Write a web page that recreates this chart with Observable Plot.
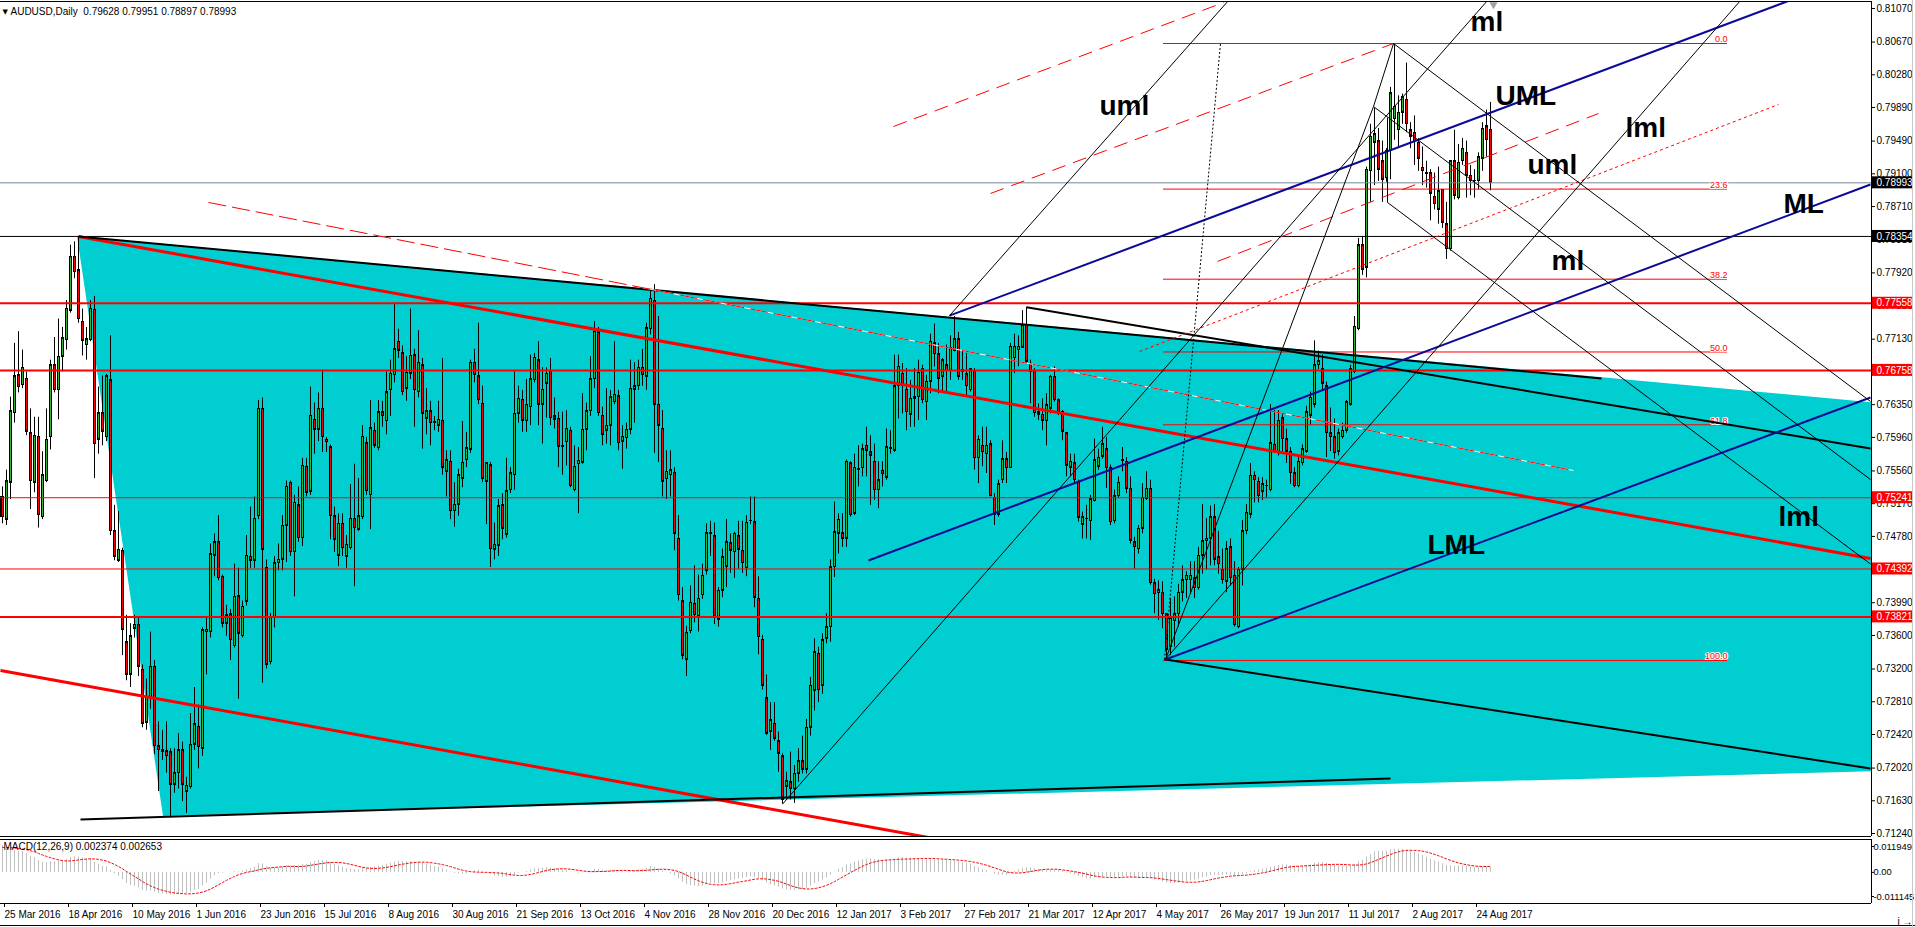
<!DOCTYPE html>
<html><head><meta charset="utf-8">
<script src="https://cdn.jsdelivr.net/npm/d3@7"></script>
<script src="https://cdn.jsdelivr.net/npm/@observablehq/plot@0.6"></script>
<style>
html,body{margin:0;padding:0;background:#fff;}
#wrap{position:relative;width:1915px;height:927px;overflow:hidden;font-family:"Liberation Sans",Arial,sans-serif;}
#main{position:absolute;left:0;top:0;}
#macd{position:absolute;left:0;top:838px;}
#bl{position:absolute;left:0;top:925px;width:1915px;height:1px;background:#000;}
#rl{position:absolute;left:1912px;top:0;width:1px;height:927px;background:#c8c8c8;}
</style></head><body><div id="wrap"><div id="main"></div><div id="macd"></div><div id="bl"></div><div id="rl"></div></div>
<script>
// ---- daily candles (price x 10000), bar 0 = 25 Mar 2016 ----
const opens = [7525,7498,7542,7625,7670,7658,7666,7601,7542,7597,
7501,7544,7596,7682,7652,7692,7712,7747,7811,7795,
7734,7706,7712,7748,7593,7625,7596,7664,7484,7449,
7461,7352,7313,7368,7373,7319,7256,7286,7323,7228,
7221,7222,7221,7182,7196,7223,7174,7179,7230,7251,
7225,7364,7364,7455,7471,7430,7374,7385,7347,7407,
7359,7400,7454,7449,7502,7630,7440,7328,7381,7446,
7450,7491,7542,7459,7515,7476,7561,7531,7617,7605,
7630,7593,7584,7502,7455,7493,7454,7464,7499,7486,
7501,7589,7527,7604,7583,7626,7615,7652,7670,7710,
7696,7654,7672,7694,7650,7682,7618,7627,7614,7610,
7616,7555,7567,7508,7516,7547,7569,7581,7685,7669,
7636,7543,7563,7462,7467,7515,7480,7533,7551,7624,
7641,7615,7632,7664,7688,7635,7660,7675,7621,7618,
7586,7590,7604,7533,7564,7566,7605,7627,7665,7721,
7622,7604,7610,7638,7645,7591,7595,7605,7653,7657,
7679,7668,7725,7759,7635,7606,7546,7551,7554,7475,
7401,7331,7365,7398,7382,7408,7437,7482,7478,7379,
7413,7442,7470,7459,7478,7461,7440,7496,7495,7404,
7355,7285,7245,7255,7234,7216,7180,7185,7177,7195,
7210,7200,7250,7294,7338,7300,7356,7370,7441,7481,
7482,7475,7565,7505,7558,7559,7586,7578,7567,7533,
7556,7548,7583,7580,7657,7672,7653,7623,7642,7644,
7678,7638,7662,7708,7695,7668,7682,7675,7699,7713,
7676,7671,7652,7675,7571,7586,7576,7588,7524,7504,
7545,7570,7559,7690,7700,7703,7729,7684,7675,7626,
7623,7615,7630,7668,7640,7626,7601,7560,7565,7543,
7492,7499,7496,7520,7561,7573,7582,7559,7496,7526,
7569,7567,7535,7471,7463,7487,7523,7535,7422,7410,
7411,7385,7346,7377,7385,7411,7426,7426,7428,7416,
7455,7472,7475,7501,7453,7438,7424,7465,7431,7370,
7438,7484,7504,7550,7543,7531,7538,7533,7587,7577,
7619,7594,7579,7553,7538,7565,7579,7622,7635,7682,
7677,7657,7601,7596,7579,7596,7604,7635,7674,7725,
7825,7798,7913,7947,7949,7925,7905,7937,7975,7962,
7983,7998,7962,7959,7947,7917,7911,7911,7883,7867,
7891,7850,7820,7925,7881,7925,7935,7908,7902,7901,
7928,7967,7962.8];
const highs = [7537,7557,7644,7708,7722,7700,7674,7630,7620,7620,
7579,7630,7688,7715,7737,7727,7759,7825,7829,7835,
7749,7727,7759,7764,7656,7669,7671,7717,7515,7508,
7464,7384,7374,7384,7381,7325,7308,7364,7330,7257,
7247,7257,7225,7225,7243,7233,7191,7267,7298,7277,
7369,7381,7469,7481,7503,7432,7396,7391,7445,7440,
7401,7479,7513,7525,7640,7643,7450,7386,7454,7469,
7503,7544,7544,7527,7537,7571,7571,7656,7637,7649,
7676,7596,7587,7513,7505,7505,7479,7540,7564,7547,
7610,7596,7640,7613,7640,7639,7674,7688,7756,7725,
7705,7692,7749,7701,7723,7690,7654,7639,7621,7639,
7690,7580,7580,7542,7558,7615,7602,7688,7701,7732,
7657,7566,7566,7494,7522,7529,7571,7560,7674,7657,
7652,7665,7694,7696,7710,7679,7679,7690,7643,7626,
7626,7628,7608,7586,7584,7648,7637,7692,7734,7727,
7632,7654,7652,7710,7652,7610,7613,7688,7685,7688,
7701,7732,7771,7778,7740,7628,7580,7580,7560,7503,
7417,7371,7419,7443,7432,7445,7493,7496,7494,7417,
7463,7498,7481,7483,7496,7496,7503,7525,7525,7430,
7360,7313,7280,7280,7245,7219,7197,7221,7205,7225,
7240,7260,7310,7356,7346,7362,7386,7450,7519,7505,
7505,7569,7567,7576,7586,7588,7608,7598,7588,7567,
7567,7606,7604,7694,7694,7684,7678,7664,7678,7688,
7682,7670,7719,7731,7708,7690,7706,7717,7740,7721,
7698,7696,7678,7678,7598,7608,7608,7592,7529,7545,
7592,7578,7708,7719,7717,7747,7751,7688,7678,7636,
7642,7648,7670,7680,7642,7628,7602,7576,7576,7545,
7507,7515,7527,7594,7582,7608,7596,7563,7533,7549,
7584,7572,7549,7477,7491,7541,7555,7545,7427,7425,
7424,7386,7404,7406,7421,7443,7436,7448,7448,7465,
7516,7499,7514,7516,7484,7463,7472,7475,7448,7441,
7497,7516,7565,7555,7548,7548,7545,7635,7628,7628,
7623,7606,7584,7560,7574,7587,7633,7650,7711,7699,
7694,7662,7631,7618,7606,7613,7640,7682,7740,7833,
7835,7918,7969,7988,7964,7949,7940,8013,8065,8003,
8005,8042,7971,7979,7952,7942,7925,7915,7911,7918,
7891,7876,7925,7962,7945,7952,7949,7920,7915,7935,
7971,7986,7995.1];
const lows = [7493,7491,7522,7613,7649,7654,7598,7510,7530,7488,
7498,7542,7581,7649,7617,7674,7700,7744,7785,7732,
7693,7688,7710,7547,7576,7586,7591,7479,7449,7447,
7336,7306,7298,7357,7311,7250,7247,7272,7218,7174,
7211,7196,7144,7172,7177,7162,7148,7177,7223,7201,
7216,7313,7357,7430,7425,7369,7359,7330,7345,7284,
7357,7395,7440,7440,7498,7303,7320,7325,7369,7437,
7437,7447,7454,7406,7471,7466,7525,7527,7576,7591,
7578,7578,7474,7459,7442,7454,7440,7462,7418,7484,
7498,7527,7486,7583,7580,7608,7599,7621,7661,7690,
7646,7639,7665,7608,7643,7582,7599,7586,7604,7602,
7551,7525,7498,7489,7502,7536,7560,7577,7661,7635,
7542,7492,7441,7450,7454,7474,7476,7529,7533,7613,
7602,7602,7610,7661,7610,7588,7619,7610,7606,7560,
7551,7562,7536,7531,7505,7564,7580,7621,7654,7621,
7586,7588,7586,7635,7580,7558,7582,7599,7613,7652,
7657,7652,7718,7577,7566,7525,7522,7525,7461,7401,
7331,7311,7362,7375,7364,7403,7432,7454,7373,7370,
7405,7417,7434,7428,7439,7434,7430,7492,7393,7337,
7295,7241,7223,7234,7197,7159,7165,7164,7160,7185,
7195,7195,7240,7270,7280,7290,7350,7352,7429,7457,
7465,7465,7501,7503,7537,7549,7549,7515,7521,7511,
7537,7545,7576,7578,7618,7624,7604,7608,7608,7616,
7636,7616,7648,7680,7648,7650,7648,7664,7698,7664,
7664,7646,7650,7557,7541,7561,7553,7525,7491,7501,
7541,7541,7559,7672,7680,7702,7684,7636,7620,7616,
7604,7586,7624,7638,7622,7592,7549,7549,7540,7495,
7475,7475,7473,7519,7557,7570,7535,7491,7493,7523,
7555,7529,7469,7439,7457,7481,7521,7420,7386,7378,
7368,7331,7336,7346,7370,7400,7404,7409,7404,7414,
7433,7438,7443,7443,7433,7421,7411,7419,7370,7368,
7419,7480,7499,7518,7518,7521,7523,7531,7577,7574,
7579,7565,7540,7536,7536,7562,7577,7610,7631,7677,
7652,7572,7579,7570,7574,7594,7601,7633,7672,7723,
7789,7786,7876,7896,7901,7876,7900,7903,7950,7942,
7969,7959,7940,7920,7913,7896,7893,7854,7867,7850,
7845,7808,7818,7879,7879,7920,7881,7884,7881,7891,
7913,7930,7889.7];
const closes = [7501,7544,7627,7669,7656,7679,7603,7544,7598,7503,
7551,7593,7682,7652,7692,7714,7749,7811,7793,7737,
7711,7713,7749,7588,7625,7603,7669,7484,7454,7462,
7367,7313,7359,7373,7323,7255,7286,7323,7228,7223,
7223,7216,7182,7196,7223,7182,7181,7230,7254,7227,
7366,7367,7457,7471,7428,7374,7384,7354,7406,7362,
7394,7455,7449,7499,7630,7462,7325,7381,7446,7450,
7491,7537,7459,7518,7476,7562,7530,7622,7605,7630,
7596,7590,7502,7474,7493,7464,7468,7499,7488,7502,
7597,7532,7607,7586,7626,7621,7650,7672,7701,7699,
7650,7673,7693,7652,7685,7624,7627,7613,7613,7617,
7560,7569,7508,7516,7551,7566,7583,7685,7670,7640,
7547,7565,7463,7468,7514,7487,7532,7553,7624,7642,
7616,7635,7665,7691,7635,7653,7672,7619,7617,7585,
7585,7606,7538,7561,7568,7605,7627,7665,7722,7625,
7599,7610,7644,7647,7589,7597,7605,7654,7657,7679,
7670,7726,7761,7635,7610,7543,7555,7557,7481,7408,
7336,7363,7399,7384,7404,7431,7482,7481,7383,7413,
7453,7471,7461,7481,7462,7446,7494,7496,7405,7358,
7300,7243,7259,7237,7219,7164,7186,7177,7195,7210,
7200,7250,7300,7340,7295,7354,7370,7441,7483,7498,
7475,7567,7503,7560,7557,7582,7580,7574,7533,7545,
7552,7584,7582,7657,7680,7657,7626,7642,7644,7673,
7640,7662,7710,7695,7666,7688,7675,7702,7713,7668,
7674,7657,7677,7571,7593,7578,7586,7526,7504,7540,
7570,7559,7704,7704,7704,7729,7686,7674,7625,7623,
7616,7634,7668,7640,7626,7603,7562,7567,7545,7500,
7501,7499,7522,7569,7572,7588,7559,7495,7526,7542,
7568,7535,7473,7465,7487,7524,7535,7422,7409,7414,
7385,7343,7380,7385,7411,7426,7431,7431,7416,7455,
7472,7475,7501,7450,7445,7426,7463,7428,7372,7438,
7484,7506,7550,7545,7526,7540,7538,7589,7579,7616,
7594,7579,7553,7538,7567,7582,7626,7643,7682,7687,
7660,7601,7596,7577,7601,7604,7638,7677,7728,7825,
7796,7915,7954,7957,7915,7903,7937,8006,7990,7983,
8001,7969,7954,7949,7928,7913,7910,7886,7874,7889,
7852,7820,7925,7884,7923,7940,7908,7901,7901,7930,
7964,7950,7899.3];

// ---- axis labels ----
const dateLabels = ["25 Mar 2016","18 Apr 2016","10 May 2016","1 Jun 2016","23 Jun 2016","15 Jul 2016","8 Aug 2016","30 Aug 2016","21 Sep 2016","13 Oct 2016","4 Nov 2016","28 Nov 2016","20 Dec 2016","12 Jan 2017","3 Feb 2017","27 Feb 2017","21 Mar 2017","12 Apr 2017","4 May 2017","26 May 2017","19 Jun 2017","11 Jul 2017","2 Aug 2017","24 Aug 2017"];
const dateLabelStep = 16;
const priceTicks = [0.81070,0.80670,0.80280,0.79890,0.79490,0.79100,0.78710,0.78310,0.77920,0.77530,0.77130,0.76740,0.76350,0.75960,0.75560,0.75170,0.74780,0.74390,0.73990,0.73600,0.73200,0.72810,0.72420,0.72020,0.71630,0.71240];
const macdTicks = [0.011949, 0, -0.011145];

// ---- horizontal levels ----
const bidPrice = 0.78993;
const blackLevels = [0.78354];
const redThickLevels = [0.77558, 0.76758, 0.73821];
const redThinLevels = [0.75241, 0.74392];

// ---- fibonacci ----
const fibHigh = 0.80653, fibLow = 0.73302, fibFromBar = 290.25, fibToBar = 431.25;
const fibLevels = [0, 23.6, 38.2, 50, 61.8, 100];

// ---- filled triangle (bar, price) ----
const triangleBar = [18.75, 40.25, 1244];
const trianglePrice = [0.78354, 0.71443, 0.72944];

// ---- trend lines: [bar1, price1, bar2, price2] ----
const redThickLines = [[19,0.78354,467,0.74517],[-0.5,0.73183,240,0.71120]];
const redDashDown = [[51.5,0.78759,392.75,0.75565]];
const redDashUp = [[222.75,0.79664,305.25,0.81141],[247,0.78866,347.75,0.80653],[303.75,0.78056,399,0.79819]];
const redDotUp = [[284.25,0.76983,444,0.79926]];
const blackThickLines = [[19,0.78354,399.75,0.76662],[256,0.7751,467,0.75828],[19.5,0.71407,347,0.71896],[290.75,0.73313,467,0.72015]];
const blueLines = [[236.75,0.7741,446.75,0.81165],[216.5,0.74493,467,0.78973],[290.75,0.73313,467,0.76435]];
const blackThinLines = [[236.75,0.7741,306.5,0.81165],[195,0.7159,371.25,0.81165],[290.5,0.73302,434.5,0.81165],[290.75,0.73313,342.75,0.79902],[347.75,0.80653,467,0.76388],[342.75,0.79902,467,0.75458],[346.25,0.78759,467,0.74451],[346.25,0.79771,346.25,0.78759],[342.75,0.79902,347.75,0.80653]];
const blackDotLines = [[290.5,0.73314,304.5,0.80653]];

// ---- text labels ----
const pfLabelText = ["uml","ml","UML","lml","uml","ml","ML","LML","lml"];
const pfLabelBar = [274.25,367,373.25,405.75,381.25,387.25,445.25,356.25,444];
const pfLabelPrice = [0.79807,0.80796,0.79926,0.79533,0.79104,0.77960,0.78639,0.74565,0.74910];
const header = "AUDUSD,Daily  0.79628 0.79951 0.78897 0.78993";
const macdTitle = "MACD(12,26,9) 0.002374 0.002653";
const macdSeed = {ema12: 0.7620, ema26: 0.7478, prior: [0.0112,0.0114,0.0115,0.0116,0.0116,0.0116,0.0115,0.0114]};

// ================= build =================
const FONT = "'Liberation Sans', Arial, sans-serif";
const X0 = -0.5, X1 = 467.25;          // visible bar range
const Y0 = 0.712046, Y1 = 0.811534;    // visible price range
const pxPerPrice = 835 / (Y1 - Y0);
const N = closes.length;
const bars = closes.map((c, i) => ({i, o: opens[i]/1e4, h: highs[i]/1e4, l: lows[i]/1e4, c: c/1e4}));
const up = bars.filter(d => d.c >= d.o), dn = bars.filter(d => d.c < d.o);

const [ia, ib, ic] = triangleBar, [pa, pb, pc] = trianglePrice;
const tri = [{x: ia, lo: pa, hi: pa}, {x: ib, lo: pb, hi: pa + (pc - pa) * (ib - ia) / (ic - ia)}, {x: ic, lo: pc, hi: pc}];

const fibData = fibLevels.map(l => ({l, p: fibHigh - (fibHigh - fibLow) * l / 100}));
const tagHalf = 6 / pxPerPrice;
const blackTags = [bidPrice, ...blackLevels], redTags = [...redThickLevels, ...redThinLevels];

const link = (data, o) => Plot.link(data, {x1: d => d[0], y1: d => d[1], x2: d => d[2], y2: d => d[3], clip: true, ...o});
const body = (data, fill, extra) => Plot.rect(data, {x1: d => d.i - 0.375, x2: d => d.i + 0.375, y1: "o", y2: "c", fill, shapeRendering: "crispEdges", ...extra});

const mainChart = Plot.plot({
  width: 1915, height: 838, marginLeft: 0, marginRight: 44, marginTop: 1, marginBottom: 2,
  x: {domain: [X0, X1], axis: null},
  y: {domain: [Y0, Y1]},
  style: {fontFamily: FONT, fontSize: "10px", background: "transparent", overflow: "visible", color: "black"},
  marks: [
    Plot.areaY(tri, {x: "x", y1: "lo", y2: "hi", fill: "#00CED1", clip: true}),
    Plot.ruleX(bars, {x: "i", y1: "l", y2: "h", stroke: "black", strokeWidth: 1}),
    body(bars, "black", {insetTop: -0.5, insetBottom: -0.5}),
    body(up, "#33b233", {insetLeft: 1, insetRight: 1, insetTop: 1, insetBottom: 1}),
    body(dn, "#ff0000", {insetLeft: 1, insetRight: 1, insetTop: 1, insetBottom: 1}),
    Plot.ruleY(blackLevels, {stroke: "black", strokeWidth: 1}),
    Plot.ruleY(redThickLevels, {stroke: "#ff0000", strokeWidth: 2}),
    Plot.ruleY(redThinLevels, {stroke: "#ff0000", strokeWidth: 1}),
    Plot.ruleY([bidPrice], {stroke: "#778899", strokeWidth: 1}),
    Plot.ruleY(fibData, {y: "p", x1: () => fibFromBar, x2: () => fibToBar, stroke: "#ff0000", strokeWidth: 1}),
    Plot.text(fibData, {x: () => fibToBar, y: "p", text: d => d.l.toFixed(1), textAnchor: "end", lineAnchor: "bottom", dy: -1, fill: "#ff0000", fontSize: 9, stroke: "white", strokeWidth: 2}),
    link(redThickLines, {stroke: "#ff0000", strokeWidth: 3}),
    link(blackThickLines, {stroke: "black", strokeWidth: 2}),
    link(redDashDown, {stroke: "white", strokeWidth: 1}),
    link(redDashDown, {stroke: "#ff0000", strokeWidth: 1, strokeDasharray: "18,6"}),
    link(redDashUp, {stroke: "#ff0000", strokeWidth: 1, strokeDasharray: "14,8"}),
    link(redDotUp, {stroke: "#ff0000", strokeWidth: 1, strokeDasharray: "3,3"}),
    link(blueLines, {stroke: "#0a0a96", strokeWidth: 2}),
    link(blackThinLines, {stroke: "black", strokeWidth: 1}),
    link(blackDotLines, {stroke: "black", strokeWidth: 1, strokeDasharray: "2,2"}),
    Plot.text(pfLabelText, {x: (d, k) => pfLabelBar[k], y: (d, k) => pfLabelPrice[k], text: d => d, textAnchor: "start", lineAnchor: "bottom", fontSize: 28, fontWeight: "bold", fill: "black"}),
    Plot.ruleY([Y1, Y0], {stroke: "black"}),
    Plot.ruleX([X1], {stroke: "black"}),
    Plot.axisY({anchor: "right", ticks: priceTicks, tickFormat: d => d.toFixed(5), tickSize: 3, tickPadding: 2, fontSize: 10}),
    Plot.rect(blackTags, {x1: () => X1 + 0.25, x2: () => X1 + 10.5, y1: d => d - tagHalf, y2: d => d + tagHalf, fill: "black"}),
    Plot.rect(redTags, {x1: () => X1 + 0.25, x2: () => X1 + 10.5, y1: d => d - tagHalf, y2: d => d + tagHalf, fill: "#ff0000"}),
    Plot.text([...blackTags, ...redTags], {x: () => X1, y: d => d, text: d => d.toFixed(5), dx: 5, textAnchor: "start", fill: "white", fontSize: 10}),
    Plot.text(["\u25BC"], {frameAnchor: "top-left", dx: 2, dy: 8, fontSize: 7, fontFamily: "DejaVu Sans", lineAnchor: "top", textAnchor: "start"}),
    Plot.text([header], {frameAnchor: "top-left", dx: 10, dy: 6, lineAnchor: "top", textAnchor: "start", fontSize: 10}),
    Plot.dot([N - 0.25], {x: d => d, y: () => Y1, symbol: "triangle", r: 3, rotate: 180, fill: "#a0a0a0", stroke: "none", dy: 3})
  ]
});
document.getElementById("main").appendChild(mainChart);

// ---- MACD (12,26,9) computed from the closes ----
let e12 = macdSeed.ema12, e26 = macdSeed.ema26;
const mainLine = closes.map(c => { c /= 1e4; e12 += (2/13) * (c - e12); e26 += (2/27) * (c - e26); return e12 - e26; });
const hist = [...macdSeed.prior, ...mainLine];
const macd = mainLine.map((m, i) => ({i, m, s: d3.mean(hist.slice(i, i + 9))}));
const M0 = -0.014378, M1 = 0.015182;

const macdChart = Plot.plot({
  width: 1915, height: 89, marginLeft: 0, marginRight: 44, marginTop: 1, marginBottom: 24,
  x: {domain: [X0, X1]},
  y: {domain: [M0, M1]},
  style: {fontFamily: FONT, fontSize: "10px", background: "transparent", overflow: "visible", color: "black"},
  marks: [
    Plot.ruleX(macd, {x: "i", y1: () => 0, y2: "m", stroke: "#c0c0c0", clip: true}),
    Plot.line(macd, {x: "i", y: "s", stroke: "#ff0000", strokeWidth: 1, strokeDasharray: "2,2", clip: true}),
    Plot.ruleY([M1, M0], {stroke: "black"}),
    Plot.ruleX([X1], {stroke: "black"}),
    Plot.axisY({anchor: "right", ticks: macdTicks, tickFormat: d => d === 0 ? "0.00" : d.toFixed(6), tickSize: 2, tickPadding: 0, fontSize: 9.4}),
    Plot.axisX({ticks: dateLabels.map((d, k) => k * dateLabelStep), tickFormat: d => dateLabels[Math.round(d / dateLabelStep)], tickSize: 4, tickPadding: 3, textAnchor: "start", dx: 2, fontSize: 10}),
    Plot.text([macdTitle], {frameAnchor: "top-left", dx: 3, dy: 3, lineAnchor: "top", textAnchor: "start", fontSize: 10})
  ]
});
document.getElementById("macd").appendChild(macdChart);
</script></body></html>
